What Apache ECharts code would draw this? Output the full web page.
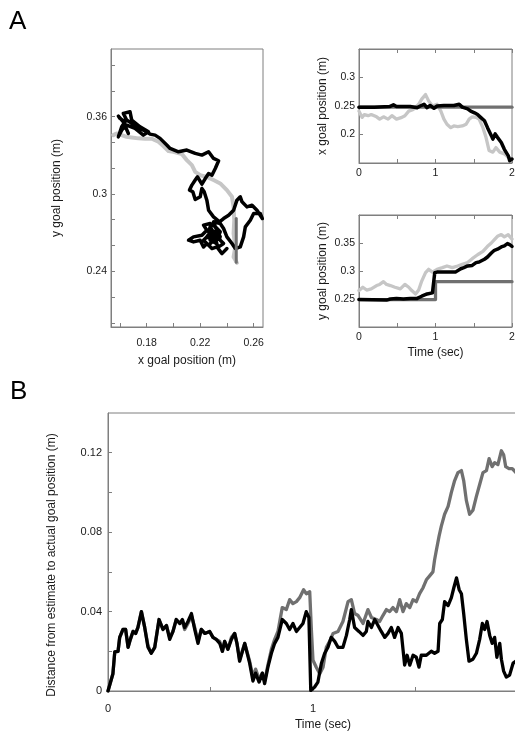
<!DOCTYPE html>
<html>
<head>
<meta charset="utf-8">
<script src="https://cdn.jsdelivr.net/npm/echarts@6/dist/echarts.min.js"></script>
<style>
html,body{margin:0;padding:0;background:#fff;}
#c{width:515px;height:734px;}
</style>
</head>
<body>
<div id="c"></div>
<script>
// ---------- Panel A (left): goal-position trajectories (x vs y) ----------
const scatBlackX = [.24,.2363,.2325,.2288,.225,.2225,.22,.215,.2113,.215,
 .2213,.225,.2225,.2275,.2313,.235,.2325,.2288,.2263,
 .2275,.2313,.2275,.2325,.2288,.225,.23,.2263,.2225,.2263,.2325,.235,.2313,.2338,.2375,.235,
 .23,
 .235,.2375,.24,.2438,.2463,.25,.2525,.2538,.2575,.26,
 .265,.2665,.2625,.2588,.255,.2513,.25,.2475,.245,.2413,
 .2375,.2345,.23,.2263,.225,.223,.2213,.22,.2163,.2145,
 .212,.2138,.2163,.218,.2213,.2238,.2263,.2288,.2313,.2338,
 .23,.2263,.2213,.2163,.21,.2038,.1975,.195,.19,.1863,
 .1825,.1775,.1725,.1688,.165,.1625,.1675,.1688,.175,.1813,
 .1775,.1713,.165,.1613,.1588,.1613,.1638,.16,.1588,.1625,
 .1663];
const scatBlackY = [.2576,.2537,.2589,.2576,.2615,.2589,.2641,.2628,.2641,.2667,
 .268,.2719,.2758,.2771,.2745,.2706,.2654,.2667,.2706,
 .2745,.268,.2641,.2615,.2719,.2667,.2641,.2602,.2641,.268,.2719,.2667,.2628,.2589,.2615,.2641,
 .2784,
 .2771,.2732,.2667,.2615,.2576,.2589,.2667,.2745,.2796,.2848,
 .2848,.2809,.2874,.2913,.29,.2939,.2978,.2952,.2874,.2835,
 .2809,.2784,.2822,.2874,.2952,.3017,.3043,.2978,.2957,.3017,
 .303,.3069,.3108,.3133,.3076,.312,.3159,.3146,.3198,.3258,
 .3276,.3328,.3302,.3315,.3341,.3328,.3354,.338,.3432,.3457,
 .3465,.3496,.3522,.3548,.3574,.3626,.3639,.3574,.3522,.3483,
 .3457,.3509,.3535,.3496,.3444,.3522,.3561,.3587,.3605,.3561,
 .347];
const scatGrayX = [.2475,.245,.2463,.245,.2455,.245,.2438,.24,.235,.23,
 .225,.22,.2163,.2138,.21,.2063,.2,.1963,.1925,.1888,
 .1838,.1788,.1738,.1688,.165,.1613,.1575,.155];
const scatGrayY = [.2465,.2511,.2589,.2693,.2796,.29,.2978,.303,.3082,.3108,
 .3133,.3146,.3172,.3224,.3263,.331,.3328,.3333,.3372,.3406,
 .3429,.3429,.3432,.3439,.3444,.3457,.347,.3457];
const scatTrueX = [0.247, 0.247];
const scatTrueY = [0.247, 0.281];
const scatXTicks = [0.16,0.18,0.20,0.22,0.24,0.26];
const scatXLabels = [0.18,0.22,0.26];
const scatYTicks = [0.20,0.22,0.24,0.26,0.28,0.30,0.32,0.34,0.36,0.38,0.40];
const scatYLabels = [0.24,0.30,0.36];

// ---------- Panel A (top right): x goal position vs time ----------
const xTrueT = [0, 2];
const xTrueV = [0.248, 0.248];
const xEstT = [0,.2,.40,.45,.49,.67,.76,.80,.85,.89,.93,.98,1.02,1.11,1.24,1.31,1.35,1.42,1.46,1.51,
 1.55,1.59,1.64,1.68,1.73,1.75,1.78,1.81,1.86,1.90,1.95,1.97,2.0];
const xEstV = [.248,.248,.249,.252,.249,.249,.247,.250,.253,.247,.251,.246,.250,.251,.251,.253,.248,.245,.241,.238,
 .235,.230,.224,.212,.198,.192,.201,.195,.186,.174,.163,.154,.157];
const xAltT = [0,.04,.07,.12,.16,.23,.27,.32,.38,.43,.49,.56,.60,.65,.71,.78,.82,.87,.91,.96,
 1.02,1.07,1.11,1.15,1.20,1.24,1.29,1.35,1.40,1.44,1.48,1.53,1.57,1.62,1.66,1.70,1.75,1.79,1.84,1.90,
 1.95,2.0];
const xAltV = [.241,.230,.235,.233,.235,.231,.227,.231,.227,.233,.227,.230,.233,.241,.244,.253,.262,.270,.259,.250,
 .253,.241,.227,.218,.212,.215,.214,.215,.218,.227,.231,.230,.227,.212,.195,.172,.169,.177,.169,.166,
 .160,.157];
const xPosLabels = [0.2, 0.25, 0.3];

// ---------- Panel A (bottom right): y goal position vs time ----------
const yTrueT = [0, 1, 1, 2];
const yTrueV = [0.249, 0.249, 0.281, 0.281];
const yEstT = [0,.36,.41,.49,.58,.67,.76,.82,.89,.96,.985,.99,1.02,1.15,1.26,1.33,1.37,1.42,1.48,1.53,
 1.57,1.64,1.68,1.73,1.77,1.81,1.86,1.90,1.94,1.97,2.0];
const yEstV = [.249,.248,.250,.251,.250,.251,.251,.255,.259,.261,.261,.297,.298,.298,.298,.304,.306,.309,.310,.315,
 .316,.321,.325,.332,.337,.339,.343,.345,.349,.347,.344];
const yAltT = [0,.05,.10,.16,.23,.27,.32,.36,.41,.47,.54,.60,.65,.69,.74,.78,.82,.87,.91,.96,
 1.02,1.09,1.15,1.22,1.29,1.35,1.42,1.48,1.55,1.62,1.68,1.73,1.77,1.81,1.86,1.90,1.95,2.0];
const yAltV = [.265,.271,.266,.268,.274,.276,.281,.276,.274,.271,.268,.276,.271,.265,.259,.266,.282,.297,.303,.298,
 .303,.306,.309,.306,.309,.312,.315,.322,.329,.335,.344,.350,.356,.362,.365,.361,.365,.357];
const yPosLabels = [0.25, 0.3, 0.35];

const timeTicks = [0, 0.5, 1, 1.5, 2];
const timeLabels = [0, 1, 2];

// ---------- Panel B: distance from estimate to actual goal ----------
const bBlackT = [0,.024,.033,.049,.057,.073,.086,.098,.109,.122,
 .135,.146,.163,.179,.195,.211,.228,.249,.268,.285,
 .301,.317,.333,.350,.363,.374,.390,.407,.423,.439,
 .455,.472,.496,.512,.528,.545,.558,.569,.585,.602,
 .618,.629,.642,.667,.691,.707,.720,.737,.753,.764,
 .780,.797,.813,.829,.850,.870,.886,.902,.919,.935,
 .951,.967,.980,.989,1.008,1.024,1.041,1.057,1.073,1.089,
 1.106,1.122,1.146,1.163,1.179,1.187,1.203,1.224,1.244,1.260,
 1.268,1.285,1.301,1.317,1.333,1.350,1.366,1.382,1.398,1.415,
 1.431,1.447,1.459,1.472,1.488,1.504,1.517,1.528,1.553,1.577,
 1.593,1.610,1.618,1.631,1.642,1.659,1.675,1.687,1.700,1.713,
 1.724,1.735,1.748,1.761,1.780,1.797,1.813,1.826,1.837,1.849,
 1.862,1.874,1.886,1.897,1.911,1.919,1.930,1.943,1.959,1.976,
 1.990];
const bBlackV = [0,.0087,.0197,.020,.027,.031,.031,.022,.026,.030,
 .029,.032,.040,.032,.022,.019,.022,.036,.031,.033,
 .026,.030,.036,.034,.036,.032,.035,.039,.031,.024,
 .031,.029,.030,.027,.026,.024,.020,.025,.021,.026,
 .029,.024,.015,.024,.014,.005,.009,.0045,.009,.0037,
 .012,.019,.024,.027,.036,.034,.031,.034,.030,.032,
 .034,.040,.037,.0003,.002,.0045,.014,.019,.022,.027,
 .025,.022,.022,.028,.036,.041,.032,.030,.028,.030,
 .035,.032,.036,.033,.030,.027,.029,.032,.027,.032,
 .029,.013,.018,.013,.018,.017,.012,.018,.018,.020,
 .019,.020,.034,.036,.045,.043,.047,.052,.057,.051,
 .049,.039,.026,.015,.016,.019,.026,.034,.031,.035,
 .028,.024,.027,.017,.024,.016,.010,.007,.008,.014,
 .015];
const bGrayT = [0,.024,.033,.049,.057,.073,.086,.098,.109,.122,
 .135,.146,.163,.179,.195,.211,.228,.249,.268,.285,
 .301,.317,.333,.350,.363,.374,.390,.407,.423,.439,
 .455,.472,.496,.512,.528,.545,.558,.569,.585,.602,
 .618,.629,.642,.667,.691,.707,.720,.737,.753,.764,
 .780,.797,.813,
 .829,.850,.870,.886,.902,.919,.935,.954,.967,.984,
 .992,1.0,1.016,1.033,1.049,1.065,1.081,1.098,1.122,1.146,
 1.171,1.187,1.203,1.220,1.244,1.268,1.285,1.309,1.325,1.341,
 1.358,1.374,1.390,1.407,1.423,1.439,1.455,1.472,1.488,1.504,
 1.520,1.537,1.553,1.569,1.585,1.593,1.602,1.615,1.626,1.642,
 1.659,1.675,1.691,1.707,1.724,1.735,1.748,1.764,1.780,1.797,
 1.813,1.829,1.846,1.859,1.874,1.886,1.902,1.919,1.930,1.940,
 1.956,1.972,1.990];
const bGrayV = [0,.0087,.0197,.020,.027,.031,.031,.022,.026,.030,
 .029,.032,.040,.032,.023,.019,.022,.036,.031,.033,
 .027,.030,.036,.034,.035,.031,.034,.038,.032,.025,
 .031,.029,.030,.027,.026,.025,.020,.025,.021,.027,
 .029,.024,.016,.024,.015,.007,.011,.006,.009,.005,
 .013,.021,.026,
 .030,.042,.041,.046,.044,.045,.047,.051,.049,.050,
 .031,.0155,.012,.0087,.012,.022,.025,.029,.030,.035,
 .045,.046,.039,.038,.034,.041,.037,.036,.035,.038,
 .041,.040,.042,.040,.046,.040,.044,.042,.046,.045,
 .049,.052,.056,.058,.060,.066,.071,.078,.083,.089,
 .093,.100,.106,.110,.111,.106,.096,.089,.091,.098,
 .104,.110,.111,.117,.113,.115,.114,.121,.119,.113,
 .112,.112,.110];
const distTicks = [0,0.02,0.04,0.06,0.08,0.10,0.12];
const distLabels = [0,0.04,0.08,0.12];

// ---------- styling ----------
const FONT = '"Liberation Sans", Arial, Helvetica, sans-serif';
const BOX = '#7f7f7f';
const TXT = '#1a1a1a';
const C_BLACK = '#000000', C_DARK = '#707070', C_LIGHT = '#c6c6c6';

const pairs = (xs, ys) => xs.map((x, i) => [x, ys[i]]);
const fmt = v => String(+v.toFixed(3));

function axis(o) {
  return {
    type: 'value', gridIndex: o.grid, position: o.position, min: o.min, max: o.max,
    name: o.name || '', nameLocation: 'middle', nameGap: o.nameGap || 20,
    nameTextStyle: Object.assign({ fontFamily: FONT, fontSize: o.nameSize || 12, color: TXT }, o.nameStyle || {}),
    axisLine: { show: true, onZero: false, lineStyle: { color: BOX, width: 1 } },
    axisTick: { show: !!o.ticks, inside: true, length: o.tickLen || 4, customValues: o.ticks || [], lineStyle: { color: BOX } },
    axisLabel: { show: !!o.labels, customValues: o.labels || [], fontFamily: FONT, fontSize: o.labelSize || 10.5,
      color: TXT, margin: o.margin || 5, formatter: v => fmt(v), showMinLabel: true, showMaxLabel: true, hideOverlap: false },
    splitLine: { show: false }
  };
}

function line(xi, yi, data, color, width, z) {
  return {
    type: 'line', xAxisIndex: xi, yAxisIndex: yi, data: data, showSymbol: false, symbol: 'none',
    silent: true, animation: false, z: z || 2, clip: true,
    lineStyle: { color: color, width: width, join: 'round', cap: 'round' }
  };
}

const gridStyle = { show: true, borderColor: BOX, borderWidth: 1, backgroundColor: 'transparent',
  containLabel: false, outerBoundsMode: 'none' };

const option = {
  backgroundColor: '#ffffff',
  animation: false,
  grid: [
    Object.assign({ left: 111, top: 49, width: 152, height: 278 }, gridStyle),
    Object.assign({ left: 359, top: 49, width: 153, height: 114 }, gridStyle),
    Object.assign({ left: 359, top: 215, width: 153, height: 112 }, gridStyle),
    Object.assign({ left: 108, top: 413, width: 410, height: 278 }, gridStyle)
  ],
  xAxis: [
    axis({ grid: 0, position: 'bottom', min: 0.1533, max: 0.267, ticks: scatXTicks, labels: scatXLabels,
      name: 'x goal position (m)', nameGap: 28, margin: 11 }),
    axis({ grid: 1, position: 'bottom', min: 0, max: 2, ticks: timeTicks, labels: timeLabels, margin: 5 }),
    axis({ grid: 2, position: 'bottom', min: 0, max: 2, ticks: timeTicks, labels: timeLabels, margin: 5,
      name: 'Time (sec)', nameGap: 20 }),
    axis({ grid: 3, position: 'bottom', min: 0, max: 2, ticks: timeTicks, labels: timeLabels, margin: 12, labelSize: 11,
      name: 'Time (sec)', nameGap: 28, nameStyle: { padding: [0, 0, 0, 20] } }),
    axis({ grid: 1, position: 'top', min: 0, max: 2, ticks: timeTicks }),
    axis({ grid: 2, position: 'top', min: 0, max: 2, ticks: timeTicks })
  ],
  yAxis: [
    axis({ grid: 0, position: 'left', min: 0.1967, max: 0.4126, ticks: scatYTicks, labels: scatYLabels,
      name: 'y goal position (m)', nameGap: 48, margin: 4 }),
    axis({ grid: 1, position: 'left', min: 0.15, max: 0.35, ticks: xPosLabels, labels: xPosLabels,
      name: 'x goal position (m)', nameGap: 30, margin: 4 }),
    axis({ grid: 2, position: 'left', min: 0.2, max: 0.4, ticks: yPosLabels, labels: yPosLabels,
      name: 'y goal position (m)', nameGap: 30, margin: 4 }),
    axis({ grid: 3, position: 'left', min: 0, max: 0.14, ticks: distTicks, labels: distLabels, margin: 6, labelSize: 11,
      name: 'Distance from estimate to actual goal position (m)', nameGap: 50, nameStyle: { padding: [0, 26, 0, 0] } })
  ],
  graphic: [
    { type: 'text', left: 9, top: 9, style: { text: 'A', font: '26px ' + FONT, fill: '#000' } },
    { type: 'text', left: 10, top: 379, style: { text: 'B', font: '26px ' + FONT, fill: '#000' } }
  ],
  series: [
    // scatter panel
    line(0, 0, pairs(scatGrayX, scatGrayY), C_LIGHT, 4, 2),
    line(0, 0, pairs(scatBlackX, scatBlackY), C_BLACK, 3.5, 3),
    line(0, 0, pairs(scatTrueX, scatTrueY), C_DARK, 3, 4),
    // x vs time
    line(1, 1, pairs(xAltT, xAltV), C_LIGHT, 3.3, 2),
    line(1, 1, pairs(xTrueT, xTrueV), C_DARK, 3.3, 3),
    line(1, 1, pairs(xEstT, xEstV), C_BLACK, 3.5, 4),
    // y vs time
    line(2, 2, pairs(yAltT, yAltV), C_LIGHT, 3.3, 2),
    line(2, 2, pairs(yTrueT, yTrueV), C_DARK, 3.3, 3),
    line(2, 2, pairs(yEstT, yEstV), C_BLACK, 3.5, 4),
    // panel B
    line(3, 3, pairs(bGrayT, bGrayV), C_DARK, 3.3, 2),
    line(3, 3, pairs(bBlackT, bBlackV), C_BLACK, 3.3, 3)
  ]
};

const chart = echarts.init(document.getElementById('c'), null, { renderer: 'canvas' });
chart.setOption(option);
</script>
</body>
</html>
